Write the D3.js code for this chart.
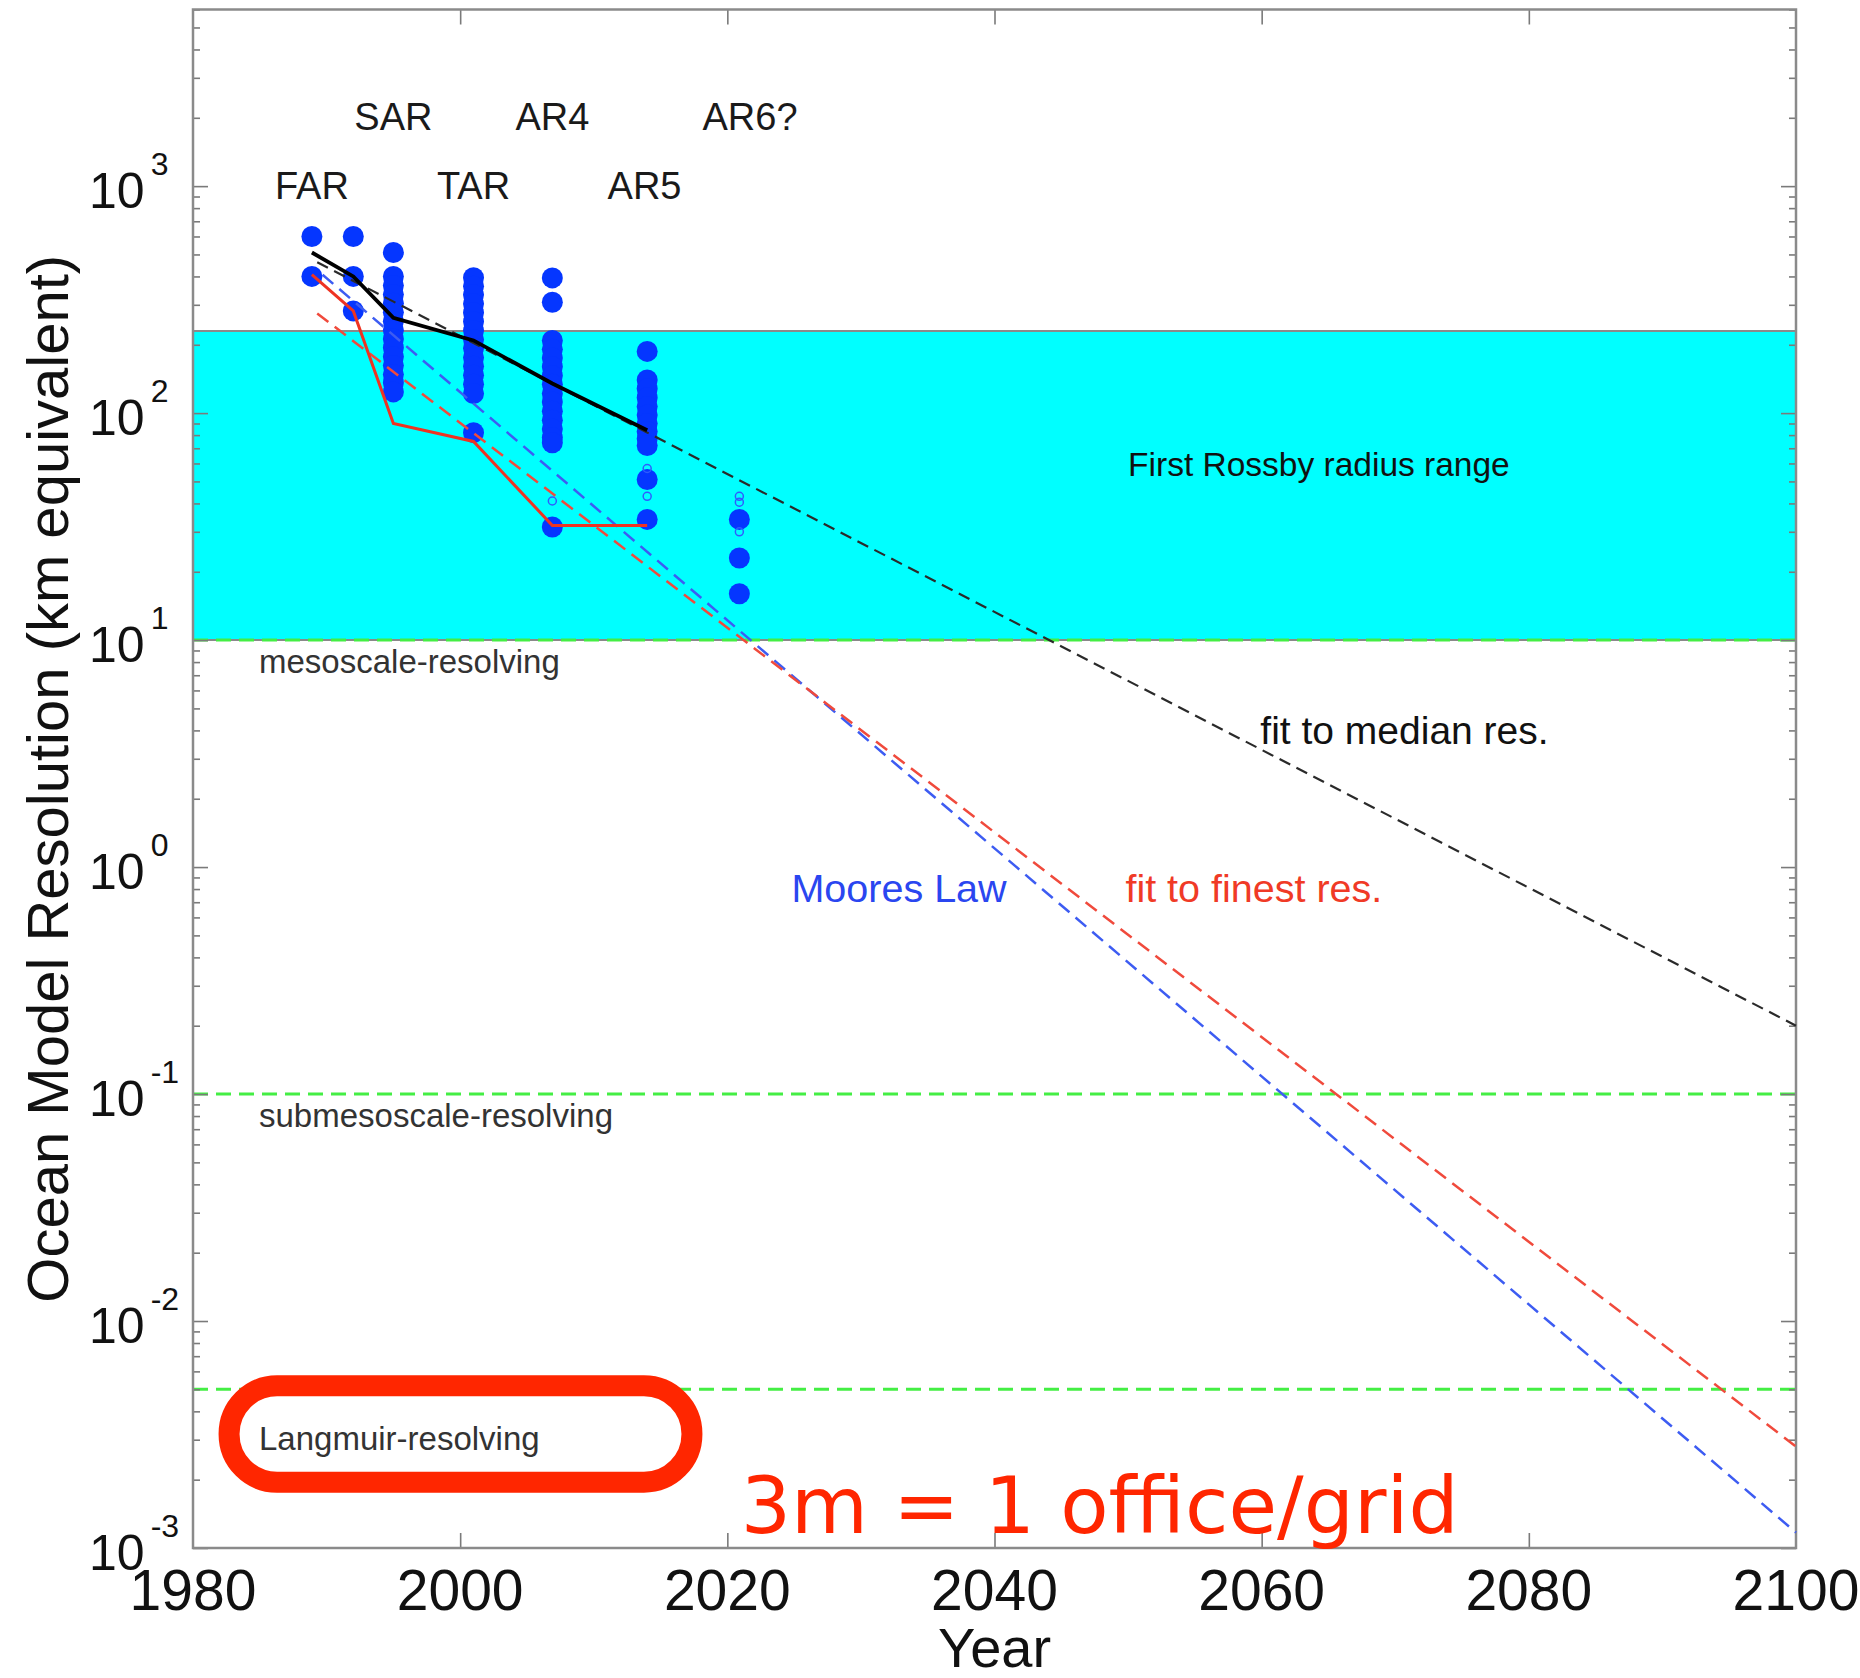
<!DOCTYPE html>
<html>
<head>
<meta charset="utf-8">
<script src="https://cdn.jsdelivr.net/npm/d3@7"></script>
<style>
  body { margin: 0; background: #fff; }
  svg { display: block; font-family: "Liberation Sans", Arial, Helvetica, sans-serif; }
</style>
</head>
<body>
<svg id="chart" width="1860" height="1678"></svg>
<script>
'use strict';

// Model rounds: year of each column of dots and the resolutions (km) found in it.
var dotYears = [1988.9, 1992, 1995, 2001, 2006.9, 2014, 2020.9];
var dotValues = [
    [600, 400],
    [600, 400, 282],
    [510, 400, 365, 333, 305, 278, 254, 232, 212, 194, 177, 162, 148, 136, 124],
    [395, 362, 332, 303, 277, 253, 231, 211, 193, 176, 161, 147, 134, 122, 82],
    [394, 308, 209, 191, 175, 160, 146, 134, 122, 112, 102, 93, 85, 78, 74, 31.5],
    [187, 140, 128, 117, 107, 98, 90, 83, 77, 72, 51, 34],
    [34, 23, 16]
];
// Small open circles.
var openYears = [2006.9, 2014, 2014, 2020.9, 2020.9, 2020.9];
var openValues = [41, 57, 43, 43, 40.5, 30];

// Median and finest resolution per round.
var lineYears = [1988.9, 1992, 1995, 2001, 2006.9, 2014];
var medianRes = [510, 400, 263, 209, 135, 84];
var finestRes = [407, 282, 90, 75, 32, 32];

// Exponential fits (start and end points).
var medianFit = [[1989.3, 462], [2100, 0.2]];
var finestFit = [[1989.3, 275], [2100, 0.0028]];
var mooreFit = [[1989.7, 407], [2100, 0.00117]];

// Rossby radius band and resolving thresholds (km).
var rossbyRange = [10, 230];
var thresholds = [10, 0.1, 0.005];
var thresholdNames = ['mesoscale-resolving', 'submesoscale-resolving', 'Langmuir-resolving'];

// Report labels.
var reportNames = ['FAR', 'SAR', 'TAR', 'AR4', 'AR5', 'AR6?'];
var reportYears = [1988.9, 1995, 2001, 2006.9, 2013.8, 2021.7];
var reportHeights = [877, 1765, 877, 1765, 877, 1765];

// Axis ticks.
var xTicks = [1980, 2000, 2020, 2040, 2060, 2080, 2100];
var yExponents = [-3, -2, -1, 0, 1, 2, 3];

var width = 1860, height = 1678;
var margin = {top: 9.5, right: 64, bottom: 130, left: 193};

var svg = d3.select('#chart');

var x = d3.scaleLinear()
    .domain([1980, 2100])
    .range([margin.left, width - margin.right]);
var y = d3.scaleLog()
    .domain([1e-3, 6000])
    .range([height - margin.bottom, margin.top]);

var x0 = x.range()[0], x1 = x.range()[1];
var yTop = y.range()[1], yBot = y.range()[0];

// Rossby radius band.
svg.append('rect')
    .attr('x', x0)
    .attr('y', y(rossbyRange[1]))
    .attr('width', x1 - x0)
    .attr('height', y(rossbyRange[0]) - y(rossbyRange[1]))
    .attr('fill', '#00ffff');
rossbyRange.forEach(function(v) {
    svg.append('line')
        .attr('x1', x0).attr('x2', x1)
        .attr('y1', y(v)).attr('y2', y(v))
        .attr('stroke', '#8a8a8a')
        .attr('stroke-width', 2);
});

// Threshold lines.
svg.selectAll('line.threshold')
    .data(thresholds)
    .enter()
    .append('line')
    .classed('threshold', true)
    .attr('x1', x0).attr('x2', x1)
    .attr('y1', function(d) { return y(d); })
    .attr('y2', function(d) { return y(d); })
    .attr('stroke', '#44ee44')
    .attr('stroke-width', 3)
    .attr('stroke-dasharray', '15,8');

svg.selectAll('text.threshold')
    .data(thresholds)
    .enter()
    .append('text')
    .classed('threshold', true)
    .attr('x', x(1980) + 66)
    .attr('y', function(d, i) { return y(d) + (i === 2 ? 61 : 33); })
    .attr('font-size', 33)
    .attr('fill', '#333')
    .text(function(d, i) { return thresholdNames[i]; });

// Ticks (inward, on all four sides).
var majorY = yExponents.map(function(e) { return Math.pow(10, e); });
var minorY = [];
yExponents.forEach(function(e) {
    for (var m = 2; m <= 9; m++) {
        var v = m * Math.pow(10, e);
        if (v <= 6000) minorY.push(v);
    }
});

function tickAxis(axis, tx, ty) {
    var g = svg.append('g')
        .attr('transform', 'translate(' + tx + ',' + ty + ')')
        .call(axis);
    g.select('.domain').remove();
    g.selectAll('line').attr('stroke', '#7a7a7a').attr('stroke-width', 1.6);
    g.selectAll('text').remove();
}
tickAxis(d3.axisLeft(y).tickValues(majorY).tickSizeInner(-15).tickSizeOuter(0).tickFormat(''), x0, 0);
tickAxis(d3.axisLeft(y).tickValues(minorY).tickSizeInner(-7).tickSizeOuter(0).tickFormat(''), x0, 0);
tickAxis(d3.axisRight(y).tickValues(majorY).tickSizeInner(-15).tickSizeOuter(0).tickFormat(''), x1, 0);
tickAxis(d3.axisRight(y).tickValues(minorY).tickSizeInner(-7).tickSizeOuter(0).tickFormat(''), x1, 0);
tickAxis(d3.axisBottom(x).tickValues(xTicks.slice(1, -1)).tickSizeInner(-15).tickSizeOuter(0).tickFormat(''), 0, yBot);
tickAxis(d3.axisTop(x).tickValues(xTicks.slice(1, -1)).tickSizeInner(-15).tickSizeOuter(0).tickFormat(''), 0, yTop);

// Frame.
svg.append('rect')
    .attr('x', x0).attr('y', yTop)
    .attr('width', x1 - x0).attr('height', yBot - yTop)
    .attr('fill', 'none')
    .attr('stroke', '#8a8a8a')
    .attr('stroke-width', 2.5);

// Dots.
var dots = [];
dotYears.forEach(function(yr, i) {
    dotValues[i].forEach(function(v) { dots.push({year: yr, value: v}); });
});
svg.selectAll('circle.dot')
    .data(dots)
    .enter()
    .append('circle')
    .classed('dot', true)
    .attr('cx', function(d) { return x(d.year); })
    .attr('cy', function(d) { return y(d.value); })
    .attr('r', 10.5)
    .attr('fill', '#0536ff');

svg.selectAll('circle.open')
    .data(openValues)
    .enter()
    .append('circle')
    .classed('open', true)
    .attr('cx', function(d, i) { return x(openYears[i]); })
    .attr('cy', function(d) { return y(d); })
    .attr('r', 4)
    .attr('fill', 'none')
    .attr('stroke', '#2f5cff')
    .attr('stroke-width', 1.5);

// Fit lines.
var line = d3.line()
    .x(function(d) { return x(d[0]); })
    .y(function(d) { return y(d[1]); });

svg.append('path')
    .datum(mooreFit)
    .attr('d', line)
    .attr('fill', 'none')
    .attr('stroke', '#3d5cf2')
    .attr('stroke-width', 2.5)
    .attr('stroke-dasharray', '14,8');
svg.append('path')
    .datum(finestFit)
    .attr('d', line)
    .attr('fill', 'none')
    .attr('stroke', '#f04a3c')
    .attr('stroke-width', 2.5)
    .attr('stroke-dasharray', '14,8');
svg.append('path')
    .datum(medianFit)
    .attr('d', line)
    .attr('fill', 'none')
    .attr('stroke', '#2a2a2a')
    .attr('stroke-width', 2.2)
    .attr('stroke-dasharray', '12,7');

// Median and finest resolution lines.
svg.append('path')
    .datum(lineYears.map(function(yr, i) { return [yr, finestRes[i]]; }))
    .attr('d', line)
    .attr('fill', 'none')
    .attr('stroke', '#ee3322')
    .attr('stroke-width', 3);
svg.append('path')
    .datum(lineYears.map(function(yr, i) { return [yr, medianRes[i]]; }))
    .attr('d', line)
    .attr('fill', 'none')
    .attr('stroke', '#000')
    .attr('stroke-width', 3.8);

// Report labels.
svg.selectAll('text.report')
    .data(reportNames)
    .enter()
    .append('text')
    .classed('report', true)
    .attr('x', function(d, i) { return x(reportYears[i]); })
    .attr('y', function(d, i) { return y(reportHeights[i]); })
    .attr('text-anchor', 'middle')
    .attr('font-size', 38)
    .attr('fill', '#1a1a1a')
    .text(function(d) { return d; });

// Line labels.
function label(txt, yr, v, size, color) {
    svg.append('text')
        .attr('x', x(yr))
        .attr('y', y(v))
        .attr('font-size', size)
        .attr('fill', color)
        .text(txt);
}
label('First Rossby radius range', 2050, 53, 33.5, '#111');
label('fit to median res.', 2059.9, 3.5, 39, '#111');
label('Moores Law', 2024.8, 0.7, 39.5, '#2a46f0');
label('fit to finest res.', 2049.8, 0.7, 39.5, '#f03a26');

// Langmuir annotation.
var boxX = [1982.7, 2017.35], boxV = [0.00518, 0.00195];
svg.append('rect')
    .attr('x', x(boxX[0]))
    .attr('y', y(boxV[0]))
    .attr('width', x(boxX[1]) - x(boxX[0]))
    .attr('height', y(boxV[1]) - y(boxV[0]))
    .attr('rx', 48).attr('ry', 48)
    .attr('fill', 'none')
    .attr('stroke', '#ff2600')
    .attr('stroke-width', 21);

svg.append('text')
    .attr('x', x(2021))
    .attr('y', y(0.00117))
    .attr('font-family', '"DejaVu Sans", sans-serif')
    .attr('font-size', 79)
    .attr('fill', '#ff2600')
    .attr('textLength', 718)
    .text('3m = 1 office/grid');

// Tick labels.
svg.selectAll('text.xtick')
    .data(xTicks)
    .enter()
    .append('text')
    .classed('xtick', true)
    .attr('x', function(d) { return x(d); })
    .attr('y', yBot + 62)
    .attr('text-anchor', 'middle')
    .attr('font-size', 57)
    .attr('fill', '#111')
    .text(function(d) { return d; });

var yLab = svg.selectAll('text.ytick')
    .data(yExponents)
    .enter()
    .append('text')
    .classed('ytick', true)
    .attr('x', 89)
    .attr('y', function(d) { return y(Math.pow(10, d)) + 22; })
    .attr('font-size', 50)
    .attr('fill', '#111');
yLab.append('tspan').text('10');
yLab.append('tspan')
    .attr('dx', 6)
    .attr('dy', -33)
    .attr('font-size', 32)
    .text(function(d) { return d; });

// Axis titles.
svg.append('text')
    .attr('x', (x0 + x1) / 2)
    .attr('y', 1667)
    .attr('text-anchor', 'middle')
    .attr('font-size', 56)
    .attr('fill', '#111')
    .text('Year');
svg.append('text')
    .attr('transform', 'translate(68,' + (yTop + yBot) / 2 + ') rotate(-90)')
    .attr('text-anchor', 'middle')
    .attr('font-size', 58)
    .attr('fill', '#111')
    .text('Ocean Model Resolution (km equivalent)');
</script>
</body>
</html>
